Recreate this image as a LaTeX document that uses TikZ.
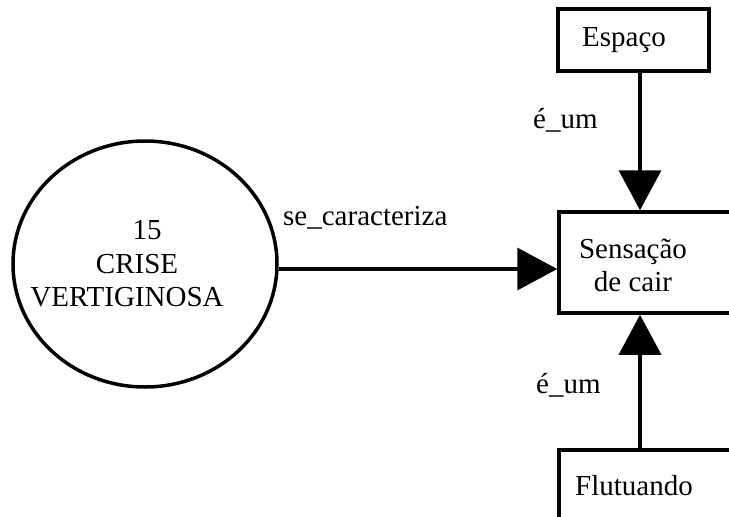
\documentclass[tikz,border=0pt]{standalone}
\usepackage{fontspec}
\setmainfont{Liberation Serif}
\usetikzlibrary{arrows.meta,shapes.geometric}
\begin{document}
\begin{tikzpicture}[x=1pt,y=-1pt,
  rel/.style={line width=3.5pt, -{Triangle[length=40pt,width=42pt]}},
  conceptbox/.style={draw, line width=3.5pt, rectangle, inner sep=0pt},
  txt/.style={font=\fontsize{29}{33}\selectfont, inner sep=0pt, align=center},
  lbl/.style={font=\fontsize{29}{33}\selectfont, inner sep=0pt, anchor=base west},
]
\useasboundingbox (0,0) rectangle (729,517);
\clip (0,0) rectangle (729,517);

% the situation, drawn as an ellipse with its three text lines
\node[draw, ellipse, line width=3.5pt, minimum width=264pt, minimum height=246pt, inner sep=0pt] (crise) at (145,264) {};
\node[txt] (num) at (147,230) {15};
\node[txt] (crisetxt) at (137,264) {CRISE};
\node[txt] (vertig) at (127,297) {VERTIGINOSA};

% concept boxes
\node[conceptbox, minimum width=151pt, minimum height=62pt] (espaco) at (633.5,40) {};
\node[txt] (espacotxt) at (624,40) {Espaço};
\node[conceptbox, minimum width=182pt, minimum height=101pt] (sensacao) at (650,262.5) {};
\node[txt] (sensacaotxt) at (633,265) {Sensação\\de cair};
\node[conceptbox, minimum width=182pt, minimum height=100pt] (flutuando) at (650,500) {};
\node[lbl] (flutuandotxt) at (575,495) {Flutuando};

% vertical axis shared by the two é_um links
\coordinate (axis) at (640,0);

% links
\draw[rel] (crise.east |- 0,269) coordinate (cstart) -- (sensacao.west |- cstart);
\draw[rel] (espaco.south -| axis) -- (sensacao.north -| axis);
\draw[rel] (flutuando.north -| axis) -- (sensacao.south -| axis);

% link labels
\node[lbl] (lblcar) at (283,225) {se\_caracteriza};
\node[lbl] (lblum1) at (533,128) {é\_um};
\node[lbl] (lblum2) at (536,393) {é\_um};
\end{tikzpicture}
\end{document}
